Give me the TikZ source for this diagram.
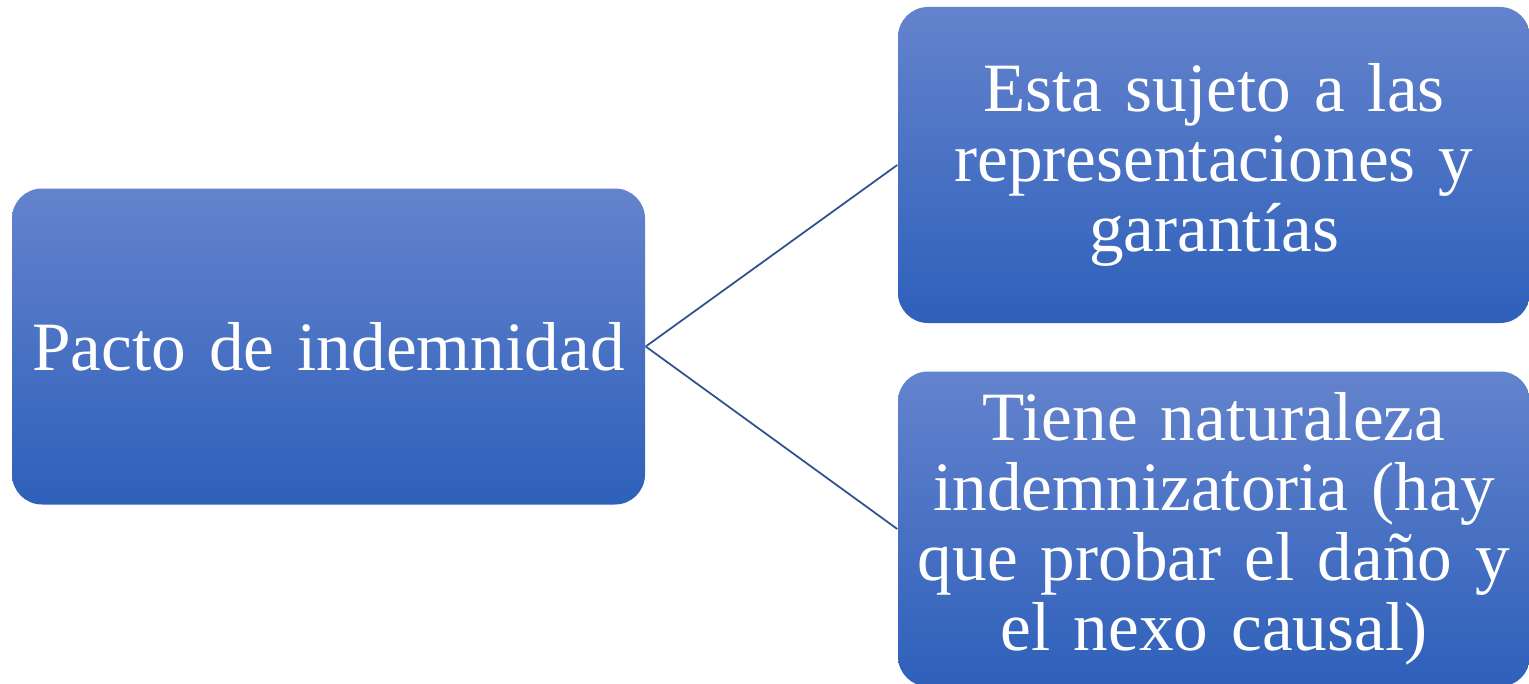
\documentclass[tikz,border=0pt]{standalone}
\usepackage{fontspec}
\setmainfont{Liberation Serif}

\definecolor{boxtop}{RGB}{100,131,205}
\definecolor{boxbot}{RGB}{46,96,186}
\definecolor{linkblue}{RGB}{47,82,143}

\tikzset{
  box/.style={rounded corners=0.3cm, top color=boxtop, bottom color=boxbot,
    draw=none, text=white, align=center, inner sep=0pt, text width=6.3cm,
    font=\fontsize{19.7}{19.9}\selectfont},
  link/.style={draw=linkblue, line width=0.5pt}
}

\begin{document}
\begin{tikzpicture}

  \useasboundingbox (0,0) rectangle (15.29,-6.84);

  % Main box
  \node[box, minimum width=6.33cm, minimum height=3.16cm]
    (pacto) at (3.285,-3.465) {Pacto de indemnidad};

  % Right boxes
  \node[box, minimum width=6.32cm, minimum height=3.16cm]
    (sujeto) at (12.14,-1.65) {Esta sujeto a las\\representaciones y\\garantías};
  \node[box, minimum width=6.32cm, minimum height=3.15cm]
    (natur) at (12.14,-5.29) {Tiene naturaleza\\indemnizatoria (hay\\que probar el daño y\\el nexo causal)};

  % Connectors
  \draw[link] (pacto.east) -- (sujeto.west);
  \draw[link] (pacto.east) -- (natur.west);

\end{tikzpicture}
\end{document}
